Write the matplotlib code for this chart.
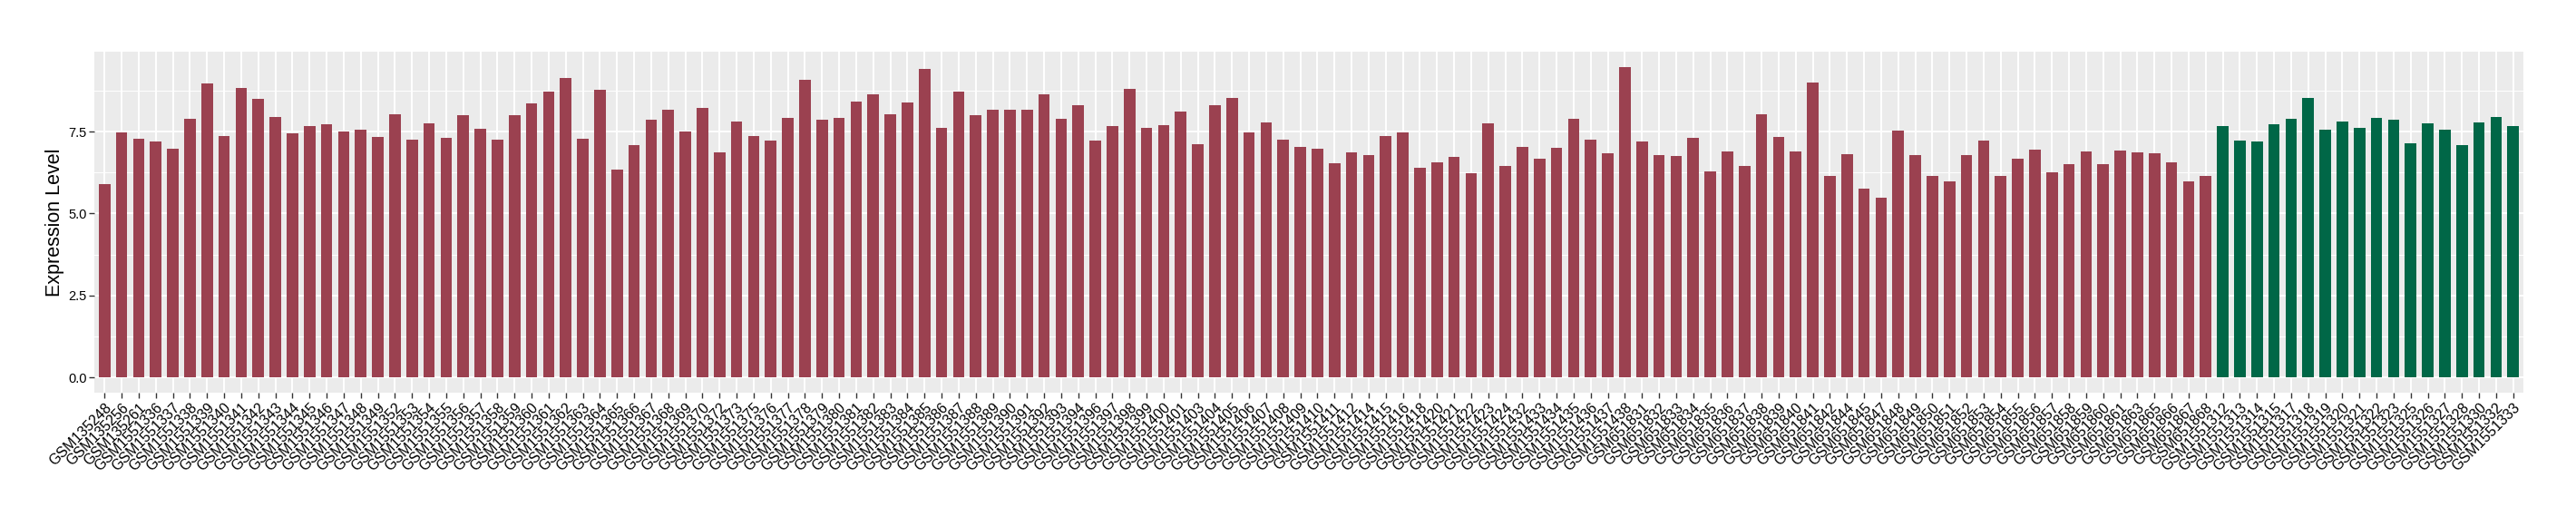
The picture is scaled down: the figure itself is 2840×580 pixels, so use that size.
import matplotlib
matplotlib.use("Agg")
import matplotlib.pyplot as plt
from matplotlib.ticker import MultipleLocator

plt.rcParams['font.family'] = ['Liberation Sans', 'DejaVu Sans']

# samples of the first group (red)
red_labels = [
    "GSM135248", "GSM135256", "GSM135261",
    "GSM1551336", "GSM1551337", "GSM1551338", "GSM1551339", "GSM1551340", "GSM1551341", "GSM1551342",
    "GSM1551343", "GSM1551344", "GSM1551345", "GSM1551346", "GSM1551347", "GSM1551348", "GSM1551349",
    "GSM1551352", "GSM1551353", "GSM1551354", "GSM1551355", "GSM1551356", "GSM1551357", "GSM1551358",
    "GSM1551359", "GSM1551360", "GSM1551361", "GSM1551362", "GSM1551363", "GSM1551364", "GSM1551365",
    "GSM1551366", "GSM1551367", "GSM1551368", "GSM1551369", "GSM1551370", "GSM1551372", "GSM1551373",
    "GSM1551375", "GSM1551376", "GSM1551377", "GSM1551378", "GSM1551379", "GSM1551380", "GSM1551381",
    "GSM1551382", "GSM1551383", "GSM1551384", "GSM1551385", "GSM1551386", "GSM1551387", "GSM1551388",
    "GSM1551389", "GSM1551390", "GSM1551391", "GSM1551392", "GSM1551393", "GSM1551394", "GSM1551396",
    "GSM1551397", "GSM1551398", "GSM1551399", "GSM1551400", "GSM1551401", "GSM1551403", "GSM1551404",
    "GSM1551405", "GSM1551406", "GSM1551407", "GSM1551408", "GSM1551409", "GSM1551410", "GSM1551411",
    "GSM1551412", "GSM1551414", "GSM1551415", "GSM1551416", "GSM1551418", "GSM1551420", "GSM1551421",
    "GSM1551422", "GSM1551423", "GSM1551424", "GSM1551432", "GSM1551433", "GSM1551434", "GSM1551435",
    "GSM1551436", "GSM1551437", "GSM1551438",
    "GSM651831", "GSM651832", "GSM651833", "GSM651834", "GSM651835", "GSM651836", "GSM651837",
    "GSM651838", "GSM651839", "GSM651840", "GSM651841", "GSM651842", "GSM651844", "GSM651845",
    "GSM651847", "GSM651848", "GSM651849", "GSM651850", "GSM651851", "GSM651852", "GSM651853",
    "GSM651854", "GSM651855", "GSM651856", "GSM651857", "GSM651858", "GSM651859", "GSM651860",
    "GSM651861", "GSM651863", "GSM651865", "GSM651866", "GSM651867", "GSM651868",
]
red_values = [
    5.89, 7.48, 7.29, 7.20, 6.98, 7.90, 8.96, 7.37, 8.82, 8.49,
    7.96, 7.45, 7.68, 7.73, 7.51, 7.57, 7.34, 8.04, 7.26, 7.76,
    7.31, 7.99, 7.59, 7.26, 7.99, 8.35, 8.71, 9.13, 7.29, 8.77,
    6.33, 7.09, 7.87, 8.18, 7.51, 8.21, 6.87, 7.82, 7.37, 7.23,
    7.93, 9.08, 7.87, 7.93, 8.43, 8.63, 8.04, 8.38,
    9.41, 7.62, 8.71, 8.01, 8.18, 8.18, 8.18, 8.63, 7.90, 8.32,
    7.23, 7.68, 8.80, 7.62, 7.71, 8.10, 7.12, 8.32, 8.54, 7.48,
    7.79, 7.26, 7.03, 6.98, 6.53, 6.87, 6.78, 7.37, 7.48, 6.39,
    6.56, 6.73, 6.22, 7.76, 6.45, 7.03, 6.67, 7.01, 7.90, 7.26,
    6.84, 9.47, 7.20, 6.78, 6.75, 7.31, 6.28,
    6.89, 6.45, 8.04, 7.34, 6.89, 8.99, 6.14, 6.81, 5.75, 5.47,
    7.54, 6.78, 6.14, 5.97, 6.78, 7.23, 6.14, 6.67, 6.95, 6.25,
    6.50, 6.89, 6.50, 6.92, 6.87, 6.84, 6.56, 5.97, 6.14,
]

# samples of the second group (green)
green_labels = [
    "GSM1551312", "GSM1551313", "GSM1551314", "GSM1551315", "GSM1551317", "GSM1551318",
    "GSM1551319", "GSM1551320", "GSM1551321", "GSM1551322", "GSM1551323", "GSM1551325",
    "GSM1551326", "GSM1551327", "GSM1551328", "GSM1551330", "GSM1551332", "GSM1551333",
]
green_values = [
    7.68, 7.23, 7.20, 7.73, 7.90, 8.52, 7.57, 7.82, 7.62,
    7.93, 7.85, 7.15, 7.76, 7.57, 7.09, 7.79, 7.96, 7.68,
]

red_color = "#9B4150"
green_color = "#006747"

labels = red_labels + green_labels
n_red = len(red_labels)
x_red = list(range(n_red))
x_green = list(range(n_red, n_red + len(green_labels)))

fig = plt.figure(figsize=(28.4, 5.8), dpi=100)
ax = fig.add_axes([0.0366, 0.253, 0.9430, 0.649])

ax.set_facecolor("#EBEBEB")
ax.bar(x_red, red_values, width=0.67, color=red_color, zorder=3)
ax.bar(x_green, green_values, width=0.67, color=green_color, zorder=3)

ax.set_xlim(-0.6, len(labels) - 0.4)
top = max(red_values + green_values)
ax.set_ylim(-0.05 * top, 1.05 * top)

ax.yaxis.set_major_locator(MultipleLocator(2.5))
ax.yaxis.set_minor_locator(MultipleLocator(1.25))
ax.yaxis.set_major_formatter(matplotlib.ticker.FormatStrFormatter('%.1f'))
ax.set_xticks(range(len(labels)))
ax.set_xticklabels(labels, rotation=45, ha='right', va='top', rotation_mode='anchor', fontsize=11.5)

ax.grid(which='major', color='white', linewidth=1.4, zorder=1)
ax.grid(which='minor', axis='y', color='white', linewidth=0.7, zorder=1)
ax.set_axisbelow(True)

for s in ax.spines.values():
    s.set_visible(False)

ax.tick_params(axis='both', which='major', length=4, width=1, color='#333333', labelcolor='black', pad=2)
ax.tick_params(axis='y', labelsize=10.5)
ax.tick_params(axis='y', which='minor', length=0)

ax.set_ylabel("Expression Level", fontsize=15.5, labelpad=3)

fig.savefig("out.png", dpi=100)
